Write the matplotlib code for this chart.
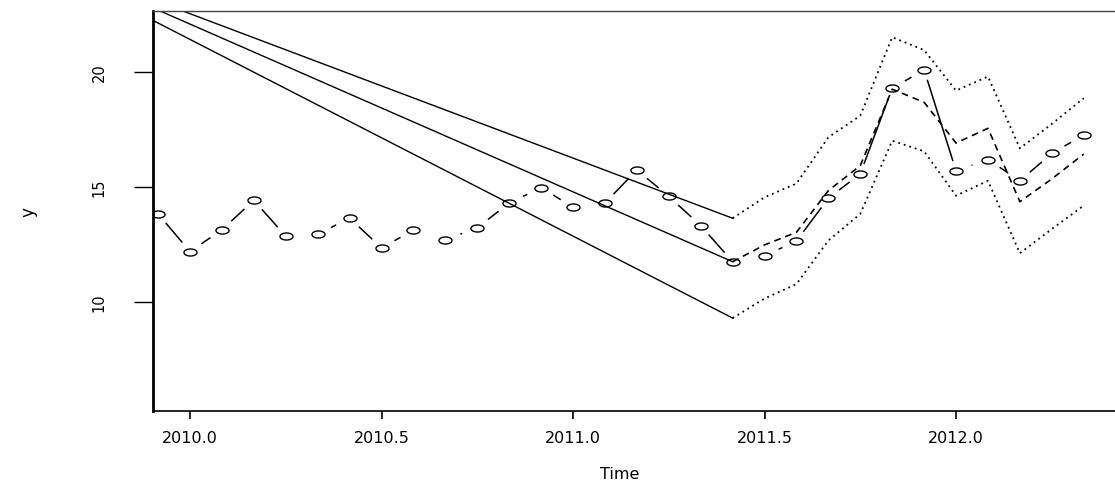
import numpy as np
import matplotlib
matplotlib.use('Agg')
from matplotlib import pyplot as plt
from matplotlib.path import Path

# monthly series, starts Dec 2009
start_year = 2009 + 11 / 12.0
observed = [13.83, 12.19, 13.14, 14.42, 12.86, 12.94, 13.65, 12.35, 13.12, 12.70,
            13.23, 14.30, 14.97, 14.12, 14.30, 15.74, 14.59, 13.32, 11.75, 12.01,
            12.65, 14.51, 15.57, 19.29, 20.09, 15.70, 16.19, 15.27, 16.46, 17.26]

# forecast from 2011.417 on
fc_start = 2011 + 5 / 12.0
fc_mean = [11.75, 12.48, 13.03, 14.84, 15.93, 19.25, 18.68, 16.91, 17.55, 14.36, 15.35, 16.43]
fc_hi = [13.64, 14.55, 15.15, 17.16, 18.10, 21.51, 20.95, 19.19, 19.80, 16.68, 17.74, 18.86]
fc_lo = [9.30, 10.15, 10.78, 12.67, 13.83, 17.01, 16.55, 14.62, 15.27, 12.12, 13.17, 14.19]

# the three straight lines coming in from the left edge
trend_from_x = 2009.90
trend_from_y = [23.16, 22.81, 22.27]   # hi, mean, lo

x_ticks = [2010.0, 2010.5, 2011.0, 2011.5, 2012.0]
y_ticks = [10, 15, 20]

STRETCH = 1.85   # picture is wider than tall compared to R device
GAP = 10.0       # px gap round points (type = "b")


def months(start, n):
    return start + np.arange(n) / 12.0


def ellipse_marker():
    th = np.linspace(0, 2 * np.pi, 60)
    verts = np.column_stack([STRETCH * np.cos(th), np.sin(th)])
    return Path(verts, closed=True)


def gapped_segments(ax, xs, ys):
    # R style type="b": lines between points, cut short near the points
    pts = ax.transData.transform(np.column_stack([xs, ys]))
    inv = ax.transData.inverted()
    segs = []
    for i in range(len(pts) - 1):
        d = pts[i + 1] - pts[i]
        L = np.hypot(d[0] / STRETCH, d[1])
        if L <= 2 * GAP:
            continue
        a = pts[i] + d * GAP / L
        b = pts[i + 1] - d * GAP / L
        segs.append(inv.transform(np.array([a, b])))
    return segs


fig = plt.figure(figsize=(11.15, 4.85), dpi=100)
ax = fig.add_axes([153 / 1115.0, 73 / 485.0, 962 / 1115.0, 400 / 485.0])
ax.set_xlim(2009.9034, 2012.415)
ax.set_ylim(5.26, 22.65)

t = months(start_year, len(observed))
tf = months(fc_start, len(fc_mean))

for seg in gapped_segments(ax, t, observed):
    ax.plot(seg[:, 0], seg[:, 1], color='black', lw=1.1, solid_capstyle='butt')
ax.plot(t, observed, ls='none', marker=ellipse_marker(), ms=9.4,
        mfc='none', mec='black', mew=1.0)

# forecast mean and bounds
ax.plot(tf, fc_mean, color='black', lw=1.2, dashes=(4, 3))
ax.plot(tf, fc_hi, color='black', lw=1.3, dashes=(1, 2.2))
ax.plot(tf, fc_lo, color='black', lw=1.3, dashes=(1, 2.2))

for y0, y1 in zip(trend_from_y, [fc_hi[0], fc_mean[0], fc_lo[0]]):
    ax.plot([trend_from_x, fc_start], [y0, y1], color='black', lw=1.0)

ax.set_xticks(x_ticks)
ax.set_xticklabels(['%.1f' % v for v in x_ticks], fontsize=11.5)
ax.set_yticks(y_ticks)
ax.set_yticklabels([str(v) for v in y_ticks], fontsize=10.5, rotation=90, va='center')
ax.tick_params(axis='x', length=5.8, width=1.2, pad=8)
ax.tick_params(axis='y', length=13.5, width=1.0, pad=20)

ax.spines['right'].set_visible(False)
ax.spines['top'].set_linewidth(1.0)
ax.spines['top'].set_color('#444444')
ax.spines['bottom'].set_linewidth(1.2)
ax.spines['left'].set_linewidth(2.0)

ax.set_xlabel('Time', fontsize=11.5, va='center')
ax.xaxis.set_label_coords(0.4855, -0.1575)
ax.set_ylabel('y', fontsize=12, va='center')
ax.yaxis.set_label_coords(-0.13, 0.5)

fig.savefig('out.png', dpi=100)
